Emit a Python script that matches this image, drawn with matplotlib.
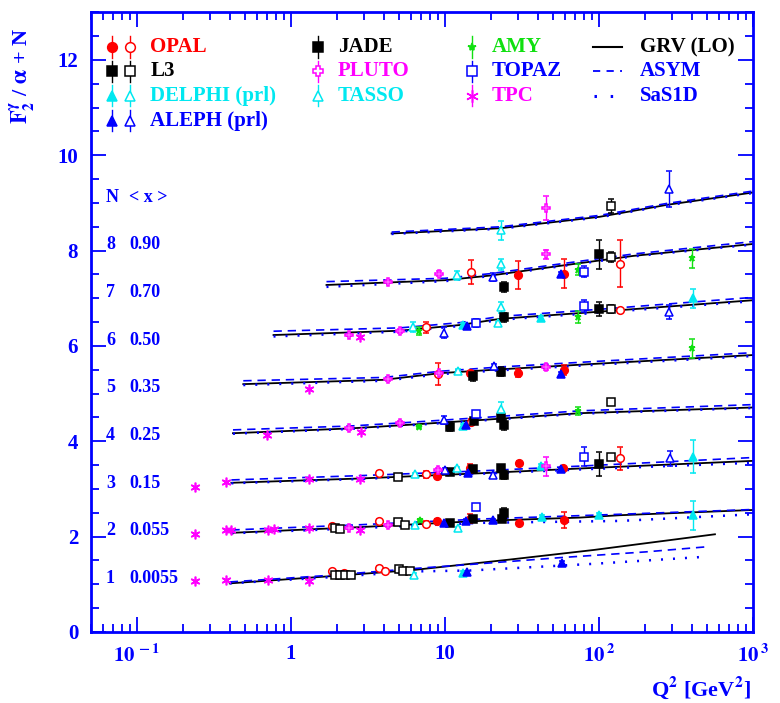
## Photon structure function F2/alpha + N versus Q2 for several <x> bins

import numpy as np
import matplotlib.pyplot as plt
from matplotlib.ticker import LogLocator, MultipleLocator, NullFormatter

plt.rcParams['font.family'] = ['Liberation Serif', 'DejaVu Serif']
plt.rcParams['font.weight'] = 'bold'
plt.rcParams['mathtext.fontset'] = 'stix'
plt.rcParams['mathtext.default'] = 'bf'

BLUE = '#0000ff'
RED = '#ff0000'
CYAN = '#00e8f0'
MAGENTA = '#ff00ff'
GREEN = '#10e010'

# bins: offset N and mean x
n_offset = [1, 2, 3, 4, 5, 6, 7, 8]
x_mean = ['0.0055', '0.055', '0.15', '0.25', '0.35', '0.50', '0.70', '0.90']

# theory curves, one list per bin (N = 1..8)
grv_q2 = [[0.40, 1.79, 6.2, 26.4, 92, 566],
          [0.41, 2.8, 17, 75, 137, 1000],
          [0.41, 2.8, 17, 75, 1000],
          [0.42, 2.4, 5.4, 19.6, 75, 1000],
          [0.49, 4.0, 9.3, 22.8, 100, 1000],
          [0.77, 5.1, 12.5, 22.8, 101, 1000],
          [1.7, 10, 20, 50, 167, 1000],
          [4.5, 22.8, 101, 275, 1000]]
grv_f2 = [[1.02, 1.17, 1.30, 1.52, 1.72, 2.05],
          [2.08, 2.20, 2.33, 2.40, 2.45, 2.56],
          [3.13, 3.22, 3.33, 3.43, 3.59],
          [4.17, 4.27, 4.34, 4.46, 4.59, 4.71],
          [5.20, 5.29, 5.43, 5.51, 5.63, 5.81],
          [6.23, 6.32, 6.44, 6.57, 6.72, 6.96],
          [7.28, 7.38, 7.48, 7.66, 7.89, 8.14],
          [8.36, 8.47, 8.71, 8.96, 9.22]]

asym_q2 = [[0.40, 1.8, 6.2, 15, 56, 200, 512],
           [0.41, 2.8, 17, 137, 1000],
           [0.41, 2.8, 17, 75, 1000],
           [0.42, 2.4, 5.4, 19.6, 75, 1000],
           [0.49, 4.0, 9.3, 22.8, 100, 1000],
           [0.77, 5.1, 12.5, 22.8, 101, 1000],
           [1.7, 10, 20, 50, 167, 1000],
           [4.5, 22.8, 101, 275, 1000]]
asym_f2 = [[1.05, 1.19, 1.33, 1.42, 1.56, 1.68, 1.79],
           [2.14, 2.25, 2.37, 2.47, 2.57],
           [3.19, 3.28, 3.38, 3.48, 3.66],
           [4.24, 4.32, 4.39, 4.51, 4.64, 4.77],
           [5.27, 5.34, 5.47, 5.56, 5.68, 5.86],
           [6.31, 6.38, 6.49, 6.62, 6.77, 7.02],
           [7.35, 7.42, 7.52, 7.70, 7.93, 8.19],
           [8.39, 8.50, 8.74, 8.99, 9.25]]

sas_q2 = [[0.40, 1.8, 6.2, 14.5, 92, 500],
          [0.41, 2.8, 17, 137, 1000],
          [0.41, 2.8, 17, 75, 1000],
          [0.42, 2.4, 5.4, 19.6, 75, 1000],
          [0.49, 4.0, 9.3, 22.8, 100, 1000],
          [0.77, 5.1, 12.5, 22.8, 101, 1000],
          [1.7, 10, 20, 50, 167, 1000],
          [4.5, 22.8, 101, 275, 1000]]
sas_f2 = [[1.02, 1.15, 1.27, 1.29, 1.43, 1.58],
          [2.07, 2.18, 2.29, 2.33, 2.47],
          [3.12, 3.21, 3.32, 3.41, 3.55],
          [4.16, 4.26, 4.33, 4.45, 4.58, 4.70],
          [5.18, 5.27, 5.41, 5.49, 5.61, 5.79],
          [6.20, 6.30, 6.42, 6.55, 6.70, 6.94],
          [7.24, 7.36, 7.47, 7.65, 7.88, 8.13],
          [8.35, 8.46, 8.70, 8.95, 9.21]]

# measurements (Q2, F2/alpha + N, error)
opal_open_q2 = [1.84, 2.2, 3.74, 4.08, 1.84, 3.74, 7.5, 3.74, 7.5, 136, 14.7, 9.0, 7.5, 137, 14.7, 137]
opal_open_f2 = [1.27, 1.24, 1.34, 1.29, 2.23, 2.33, 2.27, 3.33, 3.31, 3.64, 4.41, 5.41, 6.39, 6.75, 7.56, 7.73]
opal_open_err = [0.04, 0.04, 0.05, 0.04, 0.04, 0.05, 0.05, 0.04, 0.07, 0.25, 0.05, 0.23, 0.12, 0.05, 0.25, 0.5]

opal_fill_q2 = [8.9, 14.5, 30.3, 59.2, 8.9, 14.5, 30.3, 58.5, 14.5, 29.8, 59, 30, 59]
opal_fill_f2 = [2.33, 2.38, 2.29, 2.35, 3.27, 3.43, 3.54, 3.43, 5.43, 5.43, 5.50, 7.49, 7.52]
opal_fill_err = [0.04, 0.10, 0.04, 0.17, 0.04, 0.10, 0.05, 0.05, 0.05, 0.08, 0.10, 0.30, 0.30]

l3_open_q2 = [1.93, 2.08, 2.25, 2.44, 5.0, 5.36, 5.92, 1.93, 2.08, 4.98, 5.5, 4.98, 120, 120, 120, 120, 120]
l3_open_f2 = [1.20, 1.20, 1.20, 1.20, 1.33, 1.27, 1.27, 2.18, 2.16, 2.31, 2.24, 3.26, 3.67, 4.82, 6.77, 7.87, 8.94]
l3_open_err = [0.03, 0.03, 0.03, 0.03, 0.03, 0.04, 0.03, 0.03, 0.03, 0.04, 0.03, 0.04, 0.05, 0.05, 0.08, 0.10, 0.15]

jade_q2 = [10.8, 15.1, 23.3, 24.1, 10.8, 15.2, 23, 24.2, 100, 10.8, 15.4, 23, 24.2, 15.2, 23, 24.2, 100, 24.2, 100]
jade_f2 = [2.29, 2.38, 2.38, 2.50, 3.35, 3.41, 3.43, 3.29, 3.52, 4.31, 4.43, 4.48, 4.34, 5.36, 5.46, 6.60, 6.77, 7.24, 7.92]
jade_err = [0.03, 0.05, 0.05, 0.10, 0.04, 0.05, 0.05, 0.08, 0.25, 0.10, 0.05, 0.05, 0.10, 0.10, 0.10, 0.10, 0.15, 0.10, 0.30]

delphi_fill_q2 = [13.1, 42.4, 100, 405, 42, 405, 13.1, 13.1, 42, 405]
delphi_fill_f2 = [1.24, 2.41, 2.45, 2.45, 3.48, 3.68, 4.32, 6.44, 6.58, 7.00]
delphi_fill_err = [0.03, 0.04, 0.05, 0.30, 0.04, 0.35, 0.04, 0.04, 0.04, 0.20]

tasso_q2 = [6.3, 6.4, 12.2, 6.4, 12, 23, 12.1, 6.2, 22, 23, 12, 23, 23]
tasso_f2 = [1.20, 2.24, 2.18, 3.31, 3.43, 4.67, 5.48, 6.40, 6.48, 6.81, 7.48, 7.71, 8.43]
tasso_err = [0.03, 0.03, 0.03, 0.03, 0.04, 0.15, 0.04, 0.10, 0.03, 0.12, 0.10, 0.12, 0.20]

aleph_fill_q2 = [13.8, 57.3, 9.8, 13.6, 20.6, 14, 56.6, 13.6, 57, 13.8, 57]
aleph_fill_f2 = [1.25, 1.45, 2.28, 2.33, 2.35, 3.33, 3.41, 4.34, 5.41, 6.42, 7.52]
aleph_fill_err = [0.03, 0.03, 0.03, 0.03, 0.03, 0.03, 0.04, 0.03, 0.04, 0.03, 0.04]

aleph_open_q2 = [10, 20.6, 290, 9.9, 20.8, 9.9, 286, 20.6, 286]
aleph_open_f2 = [3.40, 3.29, 3.64, 4.45, 5.57, 6.28, 6.72, 7.45, 9.29]
aleph_open_err = [0.04, 0.05, 0.15, 0.08, 0.06, 0.12, 0.15, 0.08, 0.38]

amy_q2 = [6.9, 6.8, 73, 400, 6.8, 73, 73, 400]
amy_f2 = [2.35, 4.31, 4.64, 5.95, 6.32, 6.61, 7.60, 7.84]
amy_err = [0.03, 0.03, 0.08, 0.20, 0.08, 0.13, 0.12, 0.20]

topaz_q2 = [16, 80, 15.9, 16, 80, 80]
topaz_f2 = [2.62, 3.68, 4.57, 6.48, 6.84, 7.56]
topaz_err = [0.05, 0.20, 0.06, 0.08, 0.12, 0.12]

pluto_q2 = [2.39, 4.28, 9.0, 45, 2.39, 5.1, 4.28, 9.2, 45, 2.39, 5.1, 4.28, 9.2, 45, 45]
pluto_f2 = [2.19, 2.24, 3.40, 3.48, 4.27, 4.39, 5.30, 5.43, 5.55, 6.23, 6.31, 7.35, 7.52, 7.92, 8.90]
pluto_err = [0.03, 0.03, 0.03, 0.20, 0.03, 0.04, 0.03, 0.03, 0.05, 0.03, 0.04, 0.03, 0.05, 0.10, 0.25]

tpc_q2 = [0.238, 0.378, 0.71, 1.30, 0.238, 0.378, 0.41, 0.71, 0.77, 1.31, 2.8,
          0.238, 0.378, 1.31, 2.8, 0.70, 2.83, 1.30, 2.8]
tpc_f2 = [1.07, 1.09, 1.10, 1.07, 2.06, 2.14, 2.15, 2.13, 2.16, 2.19, 2.13,
          3.05, 3.15, 3.20, 3.22, 4.13, 4.20, 5.10, 6.18]

fig = plt.figure(figsize=(7.8, 7.03), dpi=100)
ax = fig.add_axes([0.1162, 0.101, 0.8492, 0.8815])

# theory curves
for i in range(len(n_offset)):
    ax.plot(grv_q2[i], grv_f2[i], color='black', lw=1.3, zorder=2)
    ax.plot(asym_q2[i], asym_f2[i], color=BLUE, lw=1.2, dashes=(5, 3.5), zorder=2)
    ax.plot(sas_q2[i], sas_f2[i], color=BLUE, lw=1.8, dashes=(0.8, 4), zorder=2)


def draw(q2, f2, err, color, marker, filled, ms=5.5):
    ax.errorbar(q2, f2, yerr=err, fmt=marker, color=color, mec=color,
                mfc=color if filled else 'white', ms=ms, mew=1.1,
                capsize=2.5, elinewidth=1, capthick=1, zorder=3)


draw(opal_open_q2, opal_open_f2, opal_open_err, RED, 'o', False)
draw(opal_fill_q2, opal_fill_f2, opal_fill_err, RED, 'o', True)
draw(l3_open_q2, l3_open_f2, l3_open_err, 'black', 's', False)
draw(jade_q2, jade_f2, jade_err, 'black', 's', True)
draw(delphi_fill_q2, delphi_fill_f2, delphi_fill_err, CYAN, '^', True)
draw(tasso_q2, tasso_f2, tasso_err, CYAN, '^', False)
draw(aleph_fill_q2, aleph_fill_f2, aleph_fill_err, BLUE, '^', True)
draw(aleph_open_q2, aleph_open_f2, aleph_open_err, BLUE, '^', False)
draw(amy_q2, amy_f2, amy_err, GREEN, '*', True, ms=5)
draw(topaz_q2, topaz_f2, topaz_err, BLUE, 's', False)
draw(pluto_q2, pluto_f2, pluto_err, MAGENTA, 'P', False)
ax.plot(tpc_q2, tpc_f2, ls='none', marker=(6, 2, 0), color=MAGENTA, ms=7, mew=1.2, zorder=3)

# axes
ax.set_xscale('log')
ax.set_xlim(0.05, 1000)
ax.set_ylim(0, 13)
ax.set_xticks([0.1, 1, 10, 100, 1000])
ax.set_xticklabels([r'$10^{\,-1}$', '1', '10', r'$10^{\,2}$', r'$10^{\,3}$'])
ax.xaxis.set_minor_locator(LogLocator(base=10, subs=np.arange(2, 10)))
ax.xaxis.set_minor_formatter(NullFormatter())
ax.set_yticks([0, 2, 4, 6, 8, 10, 12])
ax.yaxis.set_minor_locator(MultipleLocator(0.5))
ax.tick_params(which='both', direction='in', top=True, right=True, colors=BLUE,
               labelcolor=BLUE, width=1.3)
ax.tick_params(which='major', length=11, labelsize=15, pad=9)
ax.tick_params(which='minor', length=6)
for s in ax.spines.values():
    s.set_color(BLUE)
    s.set_linewidth(2)
for lab in ax.get_xticklabels() + ax.get_yticklabels():
    lab.set_fontweight('bold')

# bin labels
ax.text(0.032, 9.12, 'N', color=BLUE, fontsize=13, ha='center', va='center',
        transform=ax.get_yaxis_transform())
ax.text(0.058, 9.12, '< x >', color=BLUE, fontsize=13, ha='left', va='center',
        transform=ax.get_yaxis_transform())
for n, xm in zip(n_offset, x_mean):
    ax.text(0.030, n + 0.12, str(n), color=BLUE, fontsize=13, ha='center', va='center',
            transform=ax.get_yaxis_transform())
    ax.text(0.058, n + 0.12, xm, color=BLUE, fontsize=13, ha='left', va='center',
            transform=ax.get_yaxis_transform())

# hand-made legend in axes fraction
rows = [0.944, 0.905, 0.865, 0.825]


def leg_marker(x, y, color, marker, filled, ms=7):
    ax.plot([x, x], [y - 0.017, y + 0.017], color=color, lw=1, transform=ax.transAxes)
    ax.plot([x], [y], marker=marker, color=color, mec=color, mfc=color if filled else 'white',
            ms=ms, mew=1.1, transform=ax.transAxes, clip_on=False)


def leg_text(x, y, s, color):
    ax.text(x, y, s, color=color, fontsize=15, ha='left', va='center', transform=ax.transAxes)


leg_marker(0.032, rows[0], RED, 'o', True)
leg_marker(0.059, rows[0], RED, 'o', False)
leg_text(0.090, rows[0], 'OPAL', RED)
leg_marker(0.032, rows[1], 'black', 's', True)
leg_marker(0.059, rows[1], 'black', 's', False)
leg_text(0.090, rows[1], 'L3', 'black')
leg_marker(0.032, rows[2], CYAN, '^', True)
leg_marker(0.059, rows[2], CYAN, '^', False)
leg_text(0.090, rows[2], 'DELPHI (prl)', CYAN)
leg_marker(0.032, rows[3], BLUE, '^', True)
leg_marker(0.059, rows[3], BLUE, '^', False)
leg_text(0.090, rows[3], 'ALEPH (prl)', BLUE)

leg_marker(0.343, rows[0], 'black', 's', True)
leg_text(0.373, rows[0], 'JADE', 'black')
leg_marker(0.343, rows[1], MAGENTA, 'P', False)
leg_text(0.373, rows[1], 'PLUTO', MAGENTA)
leg_marker(0.343, rows[2], CYAN, '^', False)
leg_text(0.373, rows[2], 'TASSO', CYAN)

leg_marker(0.576, rows[0], GREEN, '*', True, ms=6)
leg_text(0.606, rows[0], 'AMY', GREEN)
leg_marker(0.576, rows[1], BLUE, 's', False)
leg_text(0.606, rows[1], 'TOPAZ', BLUE)
leg_marker(0.576, rows[2], MAGENTA, (6, 2, 0), True, ms=9)
leg_text(0.606, rows[2], 'TPC', MAGENTA)

ax.plot([0.759, 0.802], [rows[0], rows[0]], color='black', lw=1.5, transform=ax.transAxes)
leg_text(0.829, rows[0], 'GRV (LO)', 'black')
ax.plot([0.759, 0.802], [rows[1], rows[1]], color=BLUE, lw=1.3, dashes=(4, 3.5), transform=ax.transAxes)
leg_text(0.829, rows[1], 'ASYM', BLUE)
ax.plot([0.760, 0.802], [rows[2], rows[2]], color=BLUE, lw=2.2, dashes=(0.8, 4.5), transform=ax.transAxes)
leg_text(0.829, rows[2], 'SaS1D', BLUE)

# axis titles
fig.text(0.028, 0.96, r'$F_2^{\gamma}$ / $\alpha$ + N', rotation=90, color=BLUE,
         fontsize=16, ha='center', va='top')
fig.text(0.962, 0.022, r'Q$^2$ [GeV$^2$]', color=BLUE, fontsize=16, ha='right', va='center')

fig.savefig('out.png', dpi=100)
